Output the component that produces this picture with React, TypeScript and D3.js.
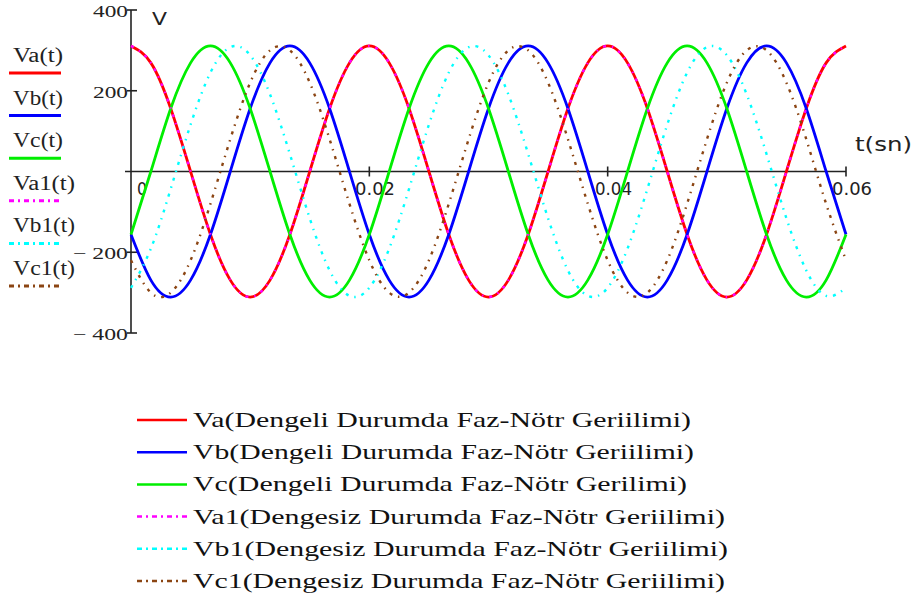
import React from "react";
import * as d3 from "d3";

// One 20 ms cycle of each phase voltage, sampled every 30 electrical degrees (V)
const PERIOD = 0.02;
const SAMPLES_PER_CYCLE = 12;
const CYCLES = 3;

const vaCycle = [311, 269, 156, 0, -156, -269, -311, -269, -156, 0, 156, 269];
const vbCycle = [-156, -269, -311, -269, -156, 0, 156, 269, 311, 269, 156, 0];
const vcCycle = [-156, 0, 156, 269, 311, 269, 156, 0, -156, -269, -311, -269];
const va1Cycle = [311, 269, 156, 0, -156, -269, -311, -269, -156, 0, 156, 269];
const vb1Cycle = [-288, -191, -43, 116, 245, 308, 288, 191, 43, -116, -245, -308];
const vc1Cycle = [-220, -300, -300, -220, -80, 80, 220, 300, 300, 220, 80, -80];

const seriesCycles = [vaCycle, vbCycle, vcCycle, va1Cycle, vb1Cycle, vc1Cycle];
const seriesColors = ["#ff0000", "#0000ff", "#00ee00", "#ff00ff", "#00ffff", "#8b4513"];
const seriesDashed = [false, false, false, true, true, true];

const yTicks = [400, 200, -200, -400];
const yTickLabels = ["400", "200", "\u2212 200", "\u2212 400"];
const xTicks = [0, 0.02, 0.04, 0.06];
const xTickLabels = ["0", "0.02", "0.04", "0.06"];

const legendLabels = [
  "Va(Dengeli Durumda Faz-N\u00f6tr Geriilimi)",
  "Vb(Dengeli Durumda Faz-N\u00f6tr Geriilimi)",
  "Vc(Dengeli Durumda Faz-N\u00f6tr Gerilimi)",
  "Va1(Dengesiz Durumda Faz-N\u00f6tr Geriilimi)",
  "Vb1(Dengesiz Durumda Faz-N\u00f6tr Geriilimi)",
  "Vc1(Dengesiz Durumda Faz-N\u00f6tr Geriilimi)",
];
const sideLabels = ["Va(t)", "Vb(t)", "Vc(t)", "Va1(t)", "Vb1(t)", "Vc1(t)"];

const W = 915;
const H = 599;
const SERIF = "'Liberation Serif', 'Times New Roman', serif";
const SANS = "'DejaVu Sans', Verdana, sans-serif";
const DASH = "5 4 2 4";
const TRACE_DASH = "3 6 1.5 6";

type Pt = { t: number; v: number };

function buildSeries(cycle: number[]): Pt[] {
  const pts: Pt[] = [];
  const n = SAMPLES_PER_CYCLE * CYCLES;
  for (let k = 0; k <= n; k++) {
    pts.push({ t: (k * PERIOD) / SAMPLES_PER_CYCLE, v: cycle[k % SAMPLES_PER_CYCLE] });
  }
  return pts;
}

export default function App() {
  const x = d3.scaleLinear().domain([0, 0.06]).range([131, 846]);
  const y = d3.scaleLinear().domain([-400, 400]).range([333, 10]);
  const y0 = y(0);

  const line = d3
    .line<Pt>()
    .x((d) => x(d.t))
    .y((d) => y(d.v))
    .curve(d3.curveNatural);

  const data = seriesCycles.map(buildSeries);

  const sideW = [50, 50, 50, 62, 62, 62];
  const legendW = [498, 501, 494, 532, 535, 532];
  const xLabelPos = [
    { x: 137, w: 10 },
    { x: 355, w: 40 },
    { x: 595, w: 37 },
    { x: 832, w: 40 },
  ];

  return (
    <svg
      width={W}
      height={H}
      style={{ position: "absolute", left: 0, top: 0, background: "#fff" }}
    >
      {/* axes */}
      <line x1={x(0)} x2={x(0)} y1={y(400)} y2={y(-400)} stroke="#222" strokeWidth={1.6} />
      <line x1={125} x2={x(0.06)} y1={y0} y2={y0} stroke="#222" strokeWidth={1.6} />
      {yTicks.map((v, i) => (
        <g key={"yt" + i}>
          <line x1={x(0) - 4} x2={x(0) + 6} y1={y(v)} y2={y(v)} stroke="#222" strokeWidth={1.6} />
          <text
            x={128}
            y={y(v) + 7}
            textAnchor="end"
            fontFamily={SERIF}
            fontSize={16}
            fill="#222"
            textLength={v < 0 ? 55 : 35}
            lengthAdjust="spacingAndGlyphs"
          >
            {yTickLabels[i]}
          </text>
        </g>
      ))}
      {xTicks.map((v, i) => (
        <g key={"xt" + i}>
          {v > 0 && (
            <line x1={x(v)} x2={x(v)} y1={y0 - 5} y2={y0 + 5} stroke="#222" strokeWidth={1.6} />
          )}
          <text
            x={xLabelPos[i].x}
            y={195}
            fontFamily={SANS}
            fontSize={17}
            fill="#222"
            textLength={xLabelPos[i].w}
            lengthAdjust="spacingAndGlyphs"
          >
            {xTickLabels[i]}
          </text>
        </g>
      ))}
      <text x={152} y={25} fontFamily={SANS} fontSize={18} fill="#222" textLength={15} lengthAdjust="spacingAndGlyphs">
        V
      </text>
      <text x={855} y={151} fontFamily={SANS} fontSize={19} fill="#222" textLength={57} lengthAdjust="spacingAndGlyphs">
        t(sn)
      </text>

      {/* traces */}
      {data.map((pts, i) => (
        <path
          key={"s" + i}
          d={line(pts) || ""}
          fill="none"
          stroke={seriesColors[i]}
          strokeWidth={seriesDashed[i] ? 2.4 : 2.8}
          strokeDasharray={seriesDashed[i] ? TRACE_DASH : undefined}
        />
      ))}

      {/* trace labels on the left */}
      {sideLabels.map((s, i) => {
        const base = 62 + i * 42.6;
        return (
          <g key={"sl" + i}>
            <text
              x={13}
              y={base}
              fontFamily={SERIF}
              fontSize={20}
              fill="#222"
              textLength={sideW[i]}
              lengthAdjust="spacingAndGlyphs"
            >
              {s}
            </text>
            <line
              x1={9}
              x2={61}
              y1={base + 11}
              y2={base + 11}
              stroke={seriesColors[i]}
              strokeWidth={3}
              strokeDasharray={seriesDashed[i] ? DASH : undefined}
            />
          </g>
        );
      })}

      {/* legend */}
      {legendLabels.map((s, i) => {
        const cy = 420 + i * 32.2;
        return (
          <g key={"lg" + i}>
            <line
              x1={137}
              x2={187}
              y1={cy}
              y2={cy}
              stroke={seriesColors[i]}
              strokeWidth={2.5}
              strokeDasharray={seriesDashed[i] ? DASH : undefined}
            />
            <text
              x={193}
              y={cy + 7}
              fontFamily={SERIF}
              fontSize={22}
              fill="#111"
              textLength={legendW[i]}
              lengthAdjust="spacingAndGlyphs"
            >
              {s}
            </text>
          </g>
        );
      })}
    </svg>
  );
}
